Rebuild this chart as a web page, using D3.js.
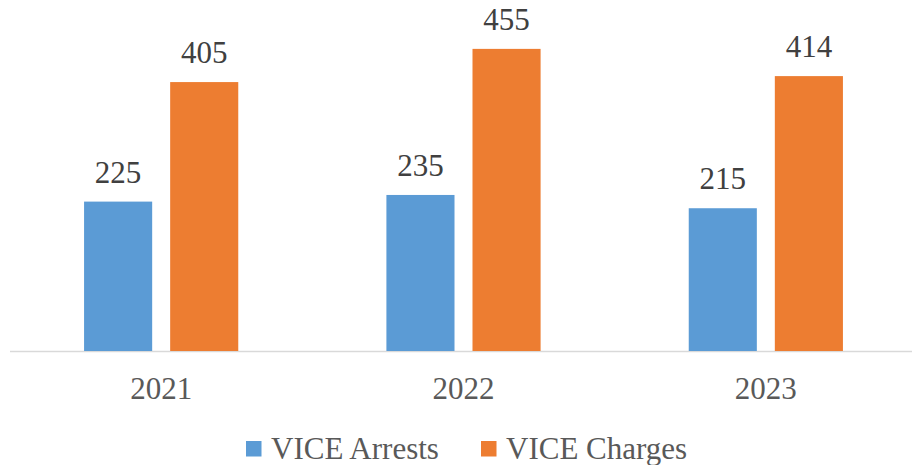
<!DOCTYPE html>
<html><head><meta charset="utf-8">
<script src="https://cdn.jsdelivr.net/npm/d3@7"></script>
<style>body{margin:0;background:#fff}svg{display:block}</style>
</head><body>
<svg id="c" width="912" height="465"></svg>
<script>
const categories = ["2021", "2022", "2023"];
const seriesNames = ["VICE Arrests", "VICE Charges"];
const arrests = [225, 235, 215];
const charges = [405, 455, 414];
const colors = ["#5b9bd5", "#ed7d31"];

const seriesValues = [arrests, charges];
const svg = d3.select("#c");
const font = "'Liberation Serif','Times New Roman',serif";
const fs = 31;

const x0 = d3.scaleBand().domain(categories).range([10, 917]).paddingInner(0.49).paddingOuter(0.245);
const x1 = d3.scaleBand().domain(seriesNames).range([0, x0.bandwidth()]).paddingInner(0.209);
const y = d3.scaleLinear().domain([0, 500]).range([351, 19]);

// axis line
svg.append("line").attr("x1", 10).attr("x2", 912).attr("y1", 351.5).attr("y2", 351.5)
  .attr("stroke", "#d9d9d9").attr("stroke-width", 1.5);

const groups = svg.selectAll("g.cat").data(categories).join("g")
  .attr("transform", d => `translate(${x0(d)},0)`);

seriesNames.forEach((s, si) => {
  groups.append("rect")
    .attr("x", x1(s))
    .attr("width", x1.bandwidth())
    .attr("y", (d, i) => y(seriesValues[si][i]))
    .attr("height", (d, i) => y(0) - y(seriesValues[si][i]))
    .attr("fill", colors[si]);
  groups.append("text")
    .attr("x", x1(s) + x1.bandwidth() / 2)
    .attr("y", (d, i) => y(seriesValues[si][i]) - 19)
    .attr("text-anchor", "middle")
    .attr("font-family", font).attr("font-size", fs).attr("fill", "#404040")
    .text((d, i) => seriesValues[si][i]);
});

// category axis labels
const xAxis = d3.axisBottom(x0).tickSize(0).tickPadding(0);
const ax = svg.append("g").attr("transform", "translate(0,351)").call(xAxis);
ax.select(".domain").remove();
ax.selectAll("text").attr("font-family", font).attr("font-size", fs).attr("fill", "#595959")
  .attr("dy", null).attr("y", 48);

// legend
const legendX = [246, 481];
const lg = svg.selectAll("g.lg").data(seriesNames).join("g")
  .attr("transform", (d, i) => `translate(${legendX[i]},441)`);
lg.append("rect").attr("width", 15.5).attr("height", 15.5).attr("fill", (d, i) => colors[i]);
lg.append("text").attr("x", 25).attr("y", 18)
  .attr("font-family", font).attr("font-size", fs).attr("fill", "#595959").text(d => d);
</script>
</body></html>
